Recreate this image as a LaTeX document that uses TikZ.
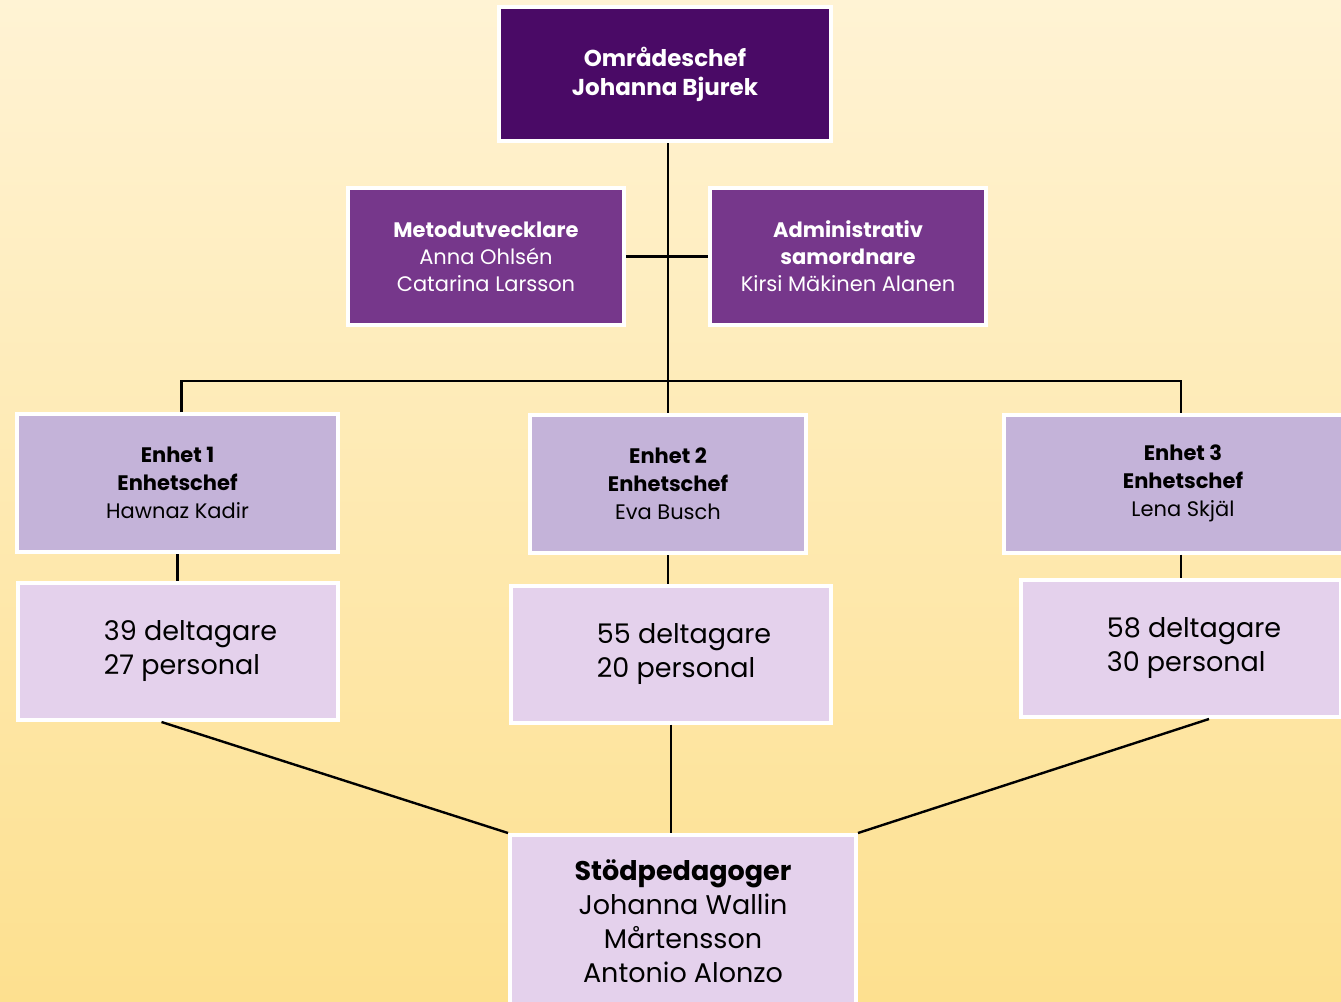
\documentclass[tikz,border=0pt]{standalone}
\usepackage{fontspec}
\setmainfont{Poppins}
\usetikzlibrary{positioning}
\definecolor{bgtop}{HTML}{FFF3D4}
\definecolor{bgbot}{HTML}{FDE08F}
\definecolor{chefpurple}{HTML}{4A0A66}
\definecolor{stabpurple}{HTML}{76378B}
\definecolor{enhetlila}{HTML}{C4B3D9}
\definecolor{antallila}{HTML}{E4D1EC}
\begin{document}
\begin{tikzpicture}[x=0.5pt,y=-0.5pt,
    box/.style={rectangle,draw=white,line width=2pt,inner sep=0pt,align=center},
    chefbox/.style={box,fill=chefpurple,text=white,minimum width=166pt,minimum height=67pt,
        font=\fontsize{11.5pt}{14.5pt}\selectfont\bfseries,
        execute at begin node={\rule{0pt}{11.6pt}}},
    stabbox/.style={box,fill=stabpurple,text=white,minimum width=138pt,minimum height=68.5pt,
        font=\fontsize{10.5pt}{13.5pt}\selectfont,
        execute at begin node={\rule{0pt}{10pt}}},
    enhetbox/.style={box,fill=enhetlila,minimum height=69pt,
        font=\fontsize{10.5pt}{14pt}\selectfont,
        execute at begin node={\rule{0pt}{10.9pt}}},
    antalbox/.style={box,fill=antallila,minimum width=160pt,minimum height=68.5pt,
        align=left,font=\fontsize{13.5pt}{17pt}\selectfont,
        execute at begin node={\rule{0pt}{16pt}}},
    line/.style={draw=black,line width=1.2pt}]
        \useasboundingbox (0,0) rectangle (1341,1002);
        \clip (0,0) rectangle (1341,1002);
        \shade[top color=bgtop,bottom color=bgbot] (0,0) rectangle (1341,1002);

        % ledning
        \node[chefbox] (chef) at (665,74)
            {Områdeschef\\Johanna Bjurek};
        \node[stabbox] (metod) at (486,256.5)
            {\textbf{Metodutvecklare}\\Anna Ohlsén\\Catarina Larsson};
        \node[stabbox] (admin) at (848,256.5)
            {\textbf{Administrativ}\\\textbf{samordnare}\\Kirsi Mäkinen Alanen};

        % enheter
        \node[enhetbox,minimum width=160.5pt] (enhet1) at (177.5,483)
            {\textbf{Enhet 1}\\\textbf{Enhetschef}\\Hawnaz Kadir};
        \node[enhetbox,minimum width=138pt] (enhet2) at (668,484)
            {\textbf{Enhet 2}\\\textbf{Enhetschef}\\Eva Busch};
        \node[enhetbox,minimum width=179pt] (enhet3) at (1183,483.5)
            {\textbf{Enhet 3}\\\textbf{Enhetschef}\\Lena Skjäl};

        \node[antalbox] (antal1) at (177.5,651.5)
            {\hspace*{13pt}39 deltagare\\\hspace*{13pt}27 personal};
        \node[antalbox] (antal2) at (671,654)
            {\hspace*{13pt}55 deltagare\\\hspace*{13pt}20 personal};
        \node[antalbox] (antal3) at (1181,648.5)
            {\hspace*{13pt}58 deltagare\\\hspace*{13pt}30 personal};

        \node[box,fill=antallila,minimum width=173pt,minimum height=86.5pt,
            font=\fontsize{13.5pt}{17pt}\selectfont] (stod) at (683,921.5)
            {\textbf{Stödpedagoger}\\Johanna Wallin\\Mårtensson\\Antonio Alonzo};

        % linjer
        \coordinate (buss) at (668,381);
        \path[line] (enhet2.north |- chef.south) -- (enhet2.north);
        \path[line] (metod.east) -- (admin.west);
        \path[line] ([xshift=2pt]enhet1.north) -- ([xshift=2pt]enhet1.north |- buss)
            -- ([xshift=-1pt]enhet3.north |- buss) -- ([xshift=-1pt]enhet3.north);
        \path[line] (enhet1.south) -- (antal1.north);
        \path[line] (enhet2.south) -- (enhet2.south |- antal2.north);
        \path[line] (antal3.north |- enhet3.south) -- (antal3.north);
        \path[line] ([xshift=-8pt]antal1.south) -- (stod.north west);
        \path[line] (antal2.south) -- (antal2.south |- stod.north);
        \path[line] ([xshift=14pt]antal3.south) -- (stod.north east);

    \end{tikzpicture}
\end{document}
